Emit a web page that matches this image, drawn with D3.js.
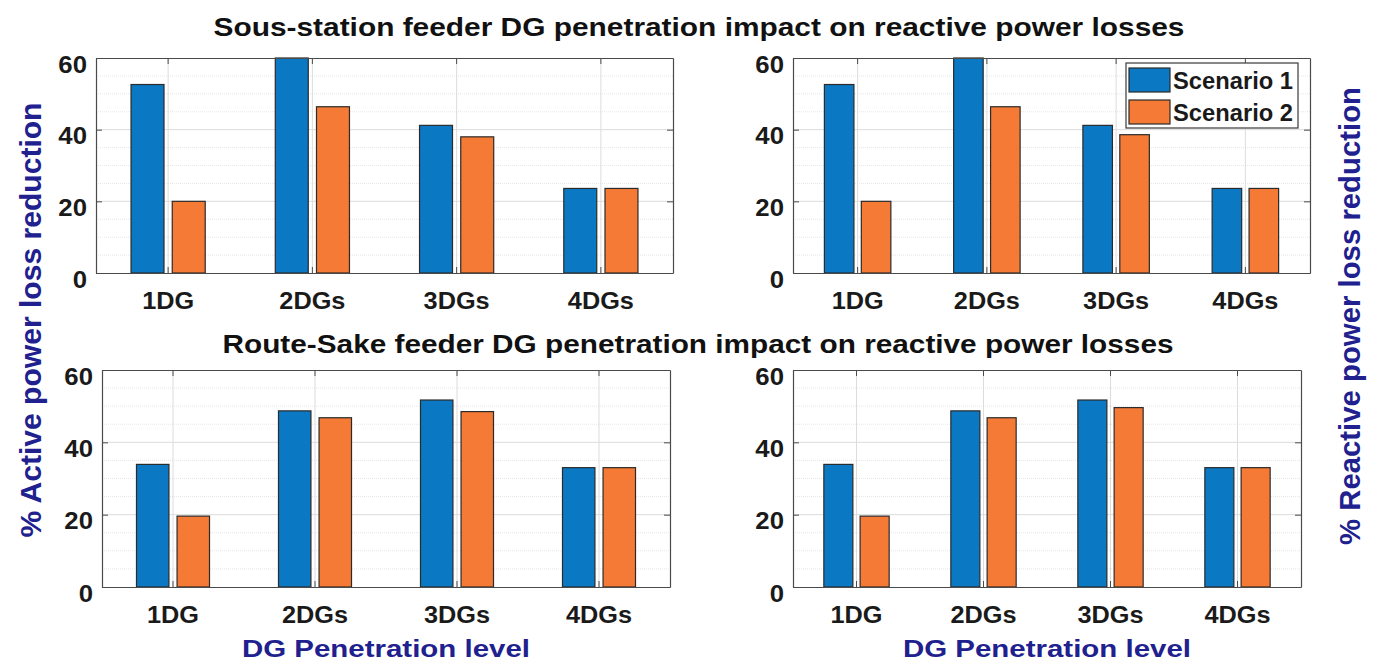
<!DOCTYPE html>
<html>
<head>
<meta charset="utf-8">
<script src="https://cdn.jsdelivr.net/npm/d3@7"></script>
<style>
  html, body { margin: 0; padding: 0; background: #ffffff; }
  svg { display: block; }
  text { font-family: "Liberation Sans", Arial, Helvetica, sans-serif; font-weight: bold; }
</style>
</head>
<body>
<svg id="chart" width="1378" height="663"></svg>
<script>
// ---- data ----
const categories = ["1DG", "2DGs", "3DGs", "4DGs"];
const seriesNames = ["Scenario 1", "Scenario 2"];
const yTicks = [0, 20, 40, 60];

// Sous-station feeder, % reduction
const sousActiveS1   = [52.6, 60.0, 41.2, 23.6];
const sousActiveS2   = [20.0, 46.4, 38.0, 23.6];
const sousReactiveS1 = [52.6, 60.0, 41.2, 23.6];
const sousReactiveS2 = [20.0, 46.4, 38.6, 23.6];

// Route-Sake feeder, % reduction
const routeActiveS1   = [33.9, 48.7, 51.7, 33.0];
const routeActiveS2   = [19.6, 46.8, 48.5, 33.0];
const routeReactiveS1 = [33.9, 48.7, 51.7, 33.0];
const routeReactiveS2 = [19.6, 46.8, 49.6, 33.0];

const titleTop = "Sous-station feeder DG penetration impact on reactive power losses";
const titleBottom = "Route-Sake feeder DG penetration impact on reactive power losses";
const xLabel = "DG Penetration level";
const yLabelLeft = "% Active power loss reduction";
const yLabelRight = "% Reactive power loss reduction";

// ---- styling ----
const colors = ["#0a78c2", "#f47a36"];
const labelColor = "#20208e";
const tickColor = "#1a1a1a";
const svg = d3.select("#chart");

// stretch a text element horizontally by factor k (or to an absolute width)
function widen(sel, k) {
  sel.each(function () {
    const w = this.getComputedTextLength();
    d3.select(this).attr("textLength", w * k).attr("lengthAdjust", "spacingAndGlyphs");
  });
}
function fitTo(sel, width) {
  sel.attr("textLength", width).attr("lengthAdjust", "spacingAndGlyphs");
}

const panels = [
  { x: 96,  y: 58,  w: 577, h: 215, s1: sousActiveS1,    s2: sousActiveS2 },
  { x: 793, y: 58,  w: 517, h: 215, s1: sousReactiveS1,  s2: sousReactiveS2, legend: true },
  { x: 102, y: 370, w: 568, h: 217, s1: routeActiveS1,   s2: routeActiveS2 },
  { x: 793, y: 370, w: 508, h: 217, s1: routeReactiveS1, s2: routeReactiveS2 }
];

panels.forEach(p => {
  const g = svg.append("g").attr("transform", `translate(${p.x},${p.y})`);
  const x0 = d3.scaleBand().domain(categories).range([0, p.w]).padding(0);
  const groupW = x0.bandwidth() * 4 / 7;
  const x1 = d3.scaleBand().domain(seriesNames).range([-groupW / 2, groupW / 2])
    .paddingInner(0.2).paddingOuter(0.1);
  const y = d3.scaleLinear().domain([0, 60]).range([p.h, 0]);

  // minor grid every 5
  const minor = d3.range(5, 60, 5).filter(v => v % 20 !== 0);
  g.append("g").selectAll("line").data(minor).join("line")
    .attr("x1", 0).attr("x2", p.w)
    .attr("y1", d => y(d)).attr("y2", d => y(d))
    .attr("stroke", "#e6e6e6").attr("stroke-width", 1)
    .attr("stroke-dasharray", "1,1");

  // major grid
  g.append("g").selectAll("line").data(yTicks.slice(1, -1)).join("line")
    .attr("x1", 0).attr("x2", p.w)
    .attr("y1", d => y(d)).attr("y2", d => y(d))
    .attr("stroke", "#dcdcdc").attr("stroke-width", 1);
  g.append("g").selectAll("line").data(categories).join("line")
    .attr("x1", d => x0(d) + x0.bandwidth() / 2).attr("x2", d => x0(d) + x0.bandwidth() / 2)
    .attr("y1", 0).attr("y2", p.h)
    .attr("stroke", "#dcdcdc").attr("stroke-width", 1);

  // bars
  const rows = categories.map((c, i) => ({ cat: c, vals: [p.s1[i], p.s2[i]] }));
  const grp = g.append("g").selectAll("g").data(rows).join("g")
    .attr("transform", d => `translate(${x0(d.cat) + x0.bandwidth() / 2},0)`);
  grp.selectAll("rect").data(d => d.vals.map((v, k) => ({ v, k }))).join("rect")
    .attr("x", d => x1(seriesNames[d.k]))
    .attr("width", x1.bandwidth())
    .attr("y", d => y(d.v))
    .attr("height", d => y(0) - y(d.v))
    .attr("fill", d => colors[d.k])
    .attr("stroke", "#2b2b2b").attr("stroke-width", 1.2);

  // axes (box with inward ticks on all sides)
  const axL = d3.axisLeft(y).tickValues(yTicks).tickSizeInner(-6).tickSizeOuter(0).tickPadding(9);
  const axR = d3.axisRight(y).tickValues(yTicks).tickSizeInner(-6).tickSizeOuter(0).tickFormat("");
  const axB = d3.axisBottom(x0).tickSizeInner(-6).tickSizeOuter(0).tickPadding(19);
  const axT = d3.axisTop(x0).tickSizeInner(-6).tickSizeOuter(0).tickFormat("");

  const gl = g.append("g").call(axL);
  const gr = g.append("g").attr("transform", `translate(${p.w},0)`).call(axR);
  const gb = g.append("g").attr("transform", `translate(0,${p.h})`).call(axB);
  const gt = g.append("g").call(axT);
  [gl, gr, gb, gt].forEach(a => {
    a.select(".domain").attr("stroke", "#4a4a4a").attr("stroke-width", 1.2);
    a.selectAll(".tick line").attr("stroke", "#4a4a4a");
  });
  gl.selectAll(".tick text")
    .attr("font-size", 23).attr("fill", tickColor)
    .attr("dy", "0.62em")
    .style("font-family", '"Liberation Sans", Arial, sans-serif').style("font-weight", "bold");
  gb.selectAll(".tick text")
    .attr("font-size", 23).attr("fill", tickColor)
    .attr("dy", "0.72em")
    .style("font-family", '"Liberation Sans", Arial, sans-serif').style("font-weight", "bold");
  widen(gl.selectAll(".tick text"), 1.12);
  widen(gb.selectAll(".tick text"), 1.1);

  if (p.legend) {
    const lg = svg.append("g").attr("transform", `translate(${p.x + p.w - 184},${p.y + 5})`);
    lg.append("rect").attr("x", 0).attr("y", 0).attr("width", 172).attr("height", 65)
      .attr("fill", "#ffffff").attr("stroke", "#3a3a3a").attr("stroke-width", 1.2);
    seriesNames.forEach((s, k) => {
      lg.append("rect").attr("x", 3).attr("y", 5 + k * 32).attr("width", 41).attr("height", 24)
        .attr("fill", colors[k]).attr("stroke", "#2b2b2b").attr("stroke-width", 1.2);
      const t = lg.append("text").attr("x", 47).attr("y", 26 + k * 32)
        .attr("font-size", 23).attr("fill", tickColor).text(s);
      fitTo(t, 120);
    });
  }
});

// titles
fitTo(svg.append("text").attr("x", 699).attr("y", 36).attr("text-anchor", "middle")
  .attr("font-size", 25).attr("fill", "#111").text(titleTop), 971);
fitTo(svg.append("text").attr("x", 698).attr("y", 353).attr("text-anchor", "middle")
  .attr("font-size", 25).attr("fill", "#111").text(titleBottom), 951);

// x-axis labels
fitTo(svg.append("text").attr("x", 386).attr("y", 657).attr("text-anchor", "middle")
  .attr("font-size", 24).attr("fill", labelColor).text(xLabel), 288);
fitTo(svg.append("text").attr("x", 1047).attr("y", 657).attr("text-anchor", "middle")
  .attr("font-size", 24).attr("fill", labelColor).text(xLabel), 288);

// y-axis labels
fitTo(svg.append("text").attr("transform", "translate(41,320) rotate(-90)")
  .attr("text-anchor", "middle").attr("font-size", 30).attr("fill", labelColor)
  .text(yLabelLeft), 435);
fitTo(svg.append("text").attr("transform", "translate(1360,316) rotate(-90)")
  .attr("text-anchor", "middle").attr("font-size", 30).attr("fill", labelColor)
  .text(yLabelRight), 458);
</script>
</body>
</html>
